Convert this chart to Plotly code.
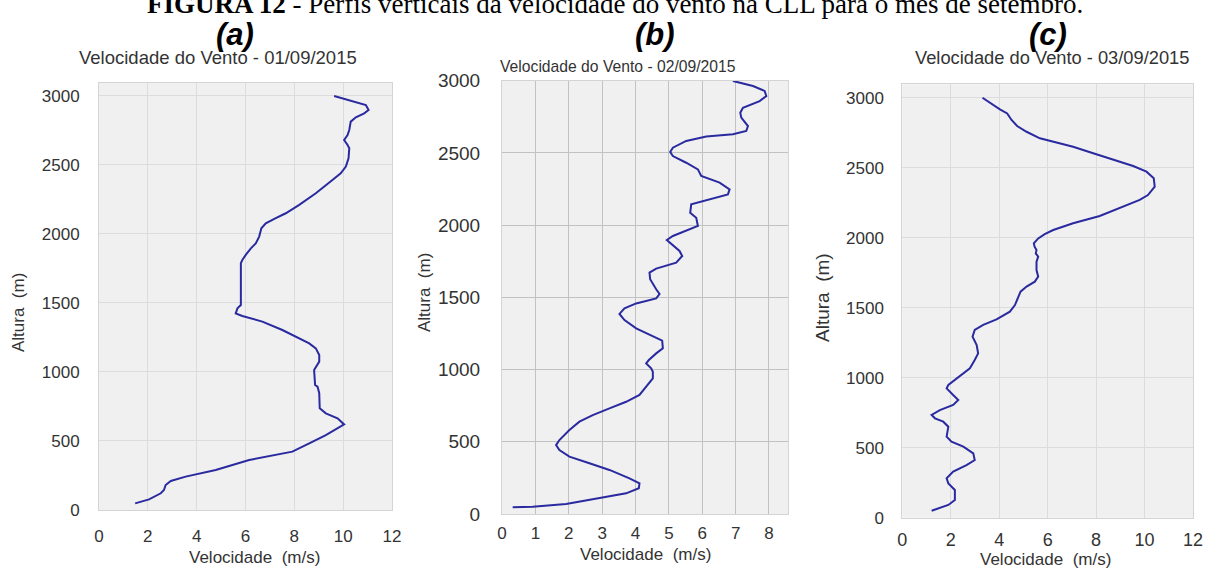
import plotly.graph_objects as go

# ---------------- data ----------------
height_a = [48, 77, 121, 145, 181, 210, 242, 290, 362, 423, 483, 543, 620, 664, 700, 737, 846, 894, 906, 1014,
            1075, 1123, 1171, 1207, 1304, 1365, 1406, 1425, 1461, 1485, 1788, 1812, 1848, 1896, 1932, 1981, 2041,
            2077, 2114, 2150, 2211, 2295, 2391, 2440, 2488, 2548, 2621, 2645, 2681, 2717, 2753, 2814, 2845, 2874,
            2898, 2934, 3000]
speed_a = [1.48, 2.05, 2.53, 2.66, 2.73, 2.94, 3.55, 4.78, 6.15, 7.92, 8.61, 9.29, 10.04, 9.77, 9.29, 9.04, 9.02,
           8.95, 8.85, 8.81, 9.02, 9.02, 8.88, 8.61, 7.51, 6.69, 5.87, 5.6, 5.67, 5.81, 5.81, 5.87, 6.01, 6.22, 6.42,
           6.56, 6.65, 6.83, 7.24, 7.65, 8.2, 8.88, 9.56, 9.9, 10.11, 10.22, 10.25, 10.18, 10.04, 10.18, 10.25,
           10.31, 10.52, 10.86, 11.04, 10.93, 9.63]

height_b = [46, 51, 69, 108, 143, 178, 212, 247, 305, 351, 397, 443, 477, 512, 582, 639, 685, 731, 777, 824, 881,
            939, 985, 1008, 1043, 1066, 1112, 1147, 1200, 1239, 1285, 1343, 1385, 1424, 1458, 1493, 1523, 1556, 1625,
            1671, 1699, 1740, 1786, 1821, 1867, 1897, 1925, 1959, 1994, 2051, 2086, 2144, 2174, 2213, 2248, 2294,
            2340, 2386, 2432, 2478, 2506, 2536, 2583, 2613, 2629, 2652, 2686, 2744, 2778, 2813, 2859, 2894, 2929,
            2963, 2998]
speed_b = [0.32, 0.92, 1.92, 2.92, 3.72, 4.1, 4.12, 3.82, 3.22, 2.62, 2.02, 1.72, 1.62, 1.72, 2.02, 2.32, 2.72, 3.22,
           3.72, 4.12, 4.32, 4.52, 4.52, 4.47, 4.32, 4.4, 4.62, 4.82, 4.8, 4.42, 4.02, 3.67, 3.52, 3.67, 4.02, 4.62,
           4.72, 4.62, 4.44, 4.42, 4.62, 5.22, 5.4, 5.32, 5.07, 4.94, 5.12, 5.52, 5.87, 5.82, 5.64, 5.67, 6.12, 6.77,
           6.82, 6.52, 5.97, 5.87, 5.52, 5.12, 5.04, 5.12, 5.52, 6.12, 6.92, 7.32, 7.37, 7.17, 7.14, 7.22, 7.72,
           7.92, 7.87, 7.52, 6.92]

height_c = [50, 91, 126, 198, 245, 281, 329, 376, 412, 460, 508, 543, 579, 650, 686, 710, 734, 769, 805, 841, 876,
            924, 948, 996, 1067, 1126, 1174, 1234, 1293, 1341, 1377, 1417, 1472, 1519, 1579, 1615, 1651, 1686, 1722,
            1769, 1829, 1865, 1888, 1912, 1936, 1960, 1995, 2026, 2055, 2103, 2155, 2234, 2270, 2305, 2365, 2425,
            2472, 2512, 2555, 2603, 2650, 2686, 2710, 2757, 2798, 2841, 2888, 2917, 2960, 3000]
speed_c = [1.21, 1.9, 2.17, 2.17, 1.9, 1.83, 2.1, 2.65, 2.99, 2.93, 2.52, 2.03, 1.83, 1.9, 1.69, 1.35, 1.21, 1.55,
           2.1, 2.31, 2.1, 1.83, 1.9, 2.24, 2.79, 2.99, 3.13, 3.07, 2.9, 2.99, 3.34, 3.89, 4.44, 4.65, 4.78, 4.88,
           5.13, 5.47, 5.61, 5.54, 5.54, 5.61, 5.51, 5.54, 5.46, 5.43, 5.61, 5.88, 6.23, 7.05, 8.15, 9.25, 9.8,
           10.14, 10.42, 10.38, 10.08, 9.53, 8.7, 7.88, 7.05, 6.23, 5.68, 5.13, 4.74, 4.51, 4.33, 4.03, 3.68, 3.31]

panel_letters = ["(a)", "(b)", "(c)"]
panel_titles = ["Velocidade do Vento - 01/09/2015",
                "Velocidade do Vento - 02/09/2015",
                "Velocidade do Vento - 03/09/2015"]
figure_title_bold = "FIGURA 12"
figure_title_rest = " - Perfis verticais da velocidade do vento na CLL para o mês de setembro."
x_title = "Velocidade  (m/s)"
y_title = "Altura  (m)"
y_ticks = [0, 500, 1000, 1500, 2000, 2500, 3000]
x_ticks_ac = [0, 2, 4, 6, 8, 10, 12]
x_ticks_b = [0, 1, 2, 3, 4, 5, 6, 7, 8]

# ---------------- figure ----------------
W, H = 1214, 572
LINE = "#2a2aa0"
SANS = "Liberation Sans, Arial, sans-serif"

fig = go.Figure()
fig.add_trace(go.Scatter(x=speed_a, y=height_a, mode="lines", line=dict(color=LINE, width=2),
                         xaxis="x", yaxis="y", hoverinfo="skip"))
fig.add_trace(go.Scatter(x=speed_b, y=height_b, mode="lines", line=dict(color=LINE, width=2),
                         xaxis="x2", yaxis="y2", hoverinfo="skip"))
fig.add_trace(go.Scatter(x=speed_c, y=height_c, mode="lines", line=dict(color=LINE, width=2),
                         xaxis="x3", yaxis="y3", hoverinfo="skip"))


def px_x(p):
    return p / W


def px_y(p):
    return 1 - p / H


def xax(domain, rng, ticks, anchor, grid, size, standoff):
    return dict(domain=domain, range=rng, tickvals=ticks, anchor=anchor, showgrid=True, gridcolor=grid,
                gridwidth=1, zeroline=False, showline=True, mirror=True, linecolor="#d4d4d4", linewidth=1,
                ticks="", tickfont=dict(family=SANS, size=size, color="#333333"), ticklabelstandoff=standoff,
                fixedrange=True, automargin=False)


def yax(domain, rng, anchor, grid, size, standoff):
    return dict(domain=domain, range=rng, tickvals=y_ticks, anchor=anchor, showgrid=True, gridcolor=grid,
                gridwidth=1, zeroline=False, showline=True, mirror=True, linecolor="#d4d4d4", linewidth=1,
                ticks="", tickfont=dict(family=SANS, size=size, color="#333333"), ticklabelstandoff=standoff,
                fixedrange=True, automargin=False)


fig.update_layout(
    width=W, height=H, margin=dict(l=0, r=0, t=0, b=0, pad=0, autoexpand=False),
    paper_bgcolor="white", plot_bgcolor="#f0f0f0", showlegend=False,
    xaxis=xax([px_x(99), px_x(392)], [0, 12.0], x_ticks_ac, "y", "#dcdcdc", 17, 11),
    yaxis=yax([px_y(510), px_y(82.7)], [0, 3096], "x", "#dcdcdc", 17, 15),
    xaxis2=xax([px_x(502), px_x(788)], [0, 8.57], x_ticks_b, "y2", "#c2c2c2", 17, 4),
    yaxis2=yax([px_y(514), px_y(80.7)], [0, 3000], "x2", "#c2c2c2", 19, 17),
    xaxis3=xax([px_x(902.3), px_x(1193)], [0, 12.0], x_ticks_ac, "y3", "#dcdcdc", 18, 6),
    yaxis3=yax([px_y(517.7), px_y(84.3)], [0, 3096], "x3", "#dcdcdc", 17, 14),
)

ann = []
# figure caption (partly cut at the top, as in the source)
ann.append(dict(text="<b>" + figure_title_bold + "</b>" + figure_title_rest, x=px_x(615), y=px_y(4),
                xref="paper", yref="paper", showarrow=False, xanchor="center", yanchor="middle",
                font=dict(family="Liberation Serif, Times New Roman, serif", size=27, color="black")))
# panel letters
for txt, cx in zip(panel_letters, [235, 655, 1048]):
    ann.append(dict(text="<b><i>" + txt + "</i></b>", x=px_x(cx), y=px_y(34), xref="paper", yref="paper",
                    showarrow=False, xanchor="center", yanchor="middle", borderpad=0,
                    font=dict(family=SANS, size=31, color="black")))
# panel titles
for txt, cx, cy, sz in zip(panel_titles, [218, 617.5, 1051.5], [58, 67, 58], [18.5, 15.7, 18.3]):
    ann.append(dict(text=txt, x=px_x(cx), y=px_y(cy), xref="paper", yref="paper", showarrow=False,
                    xanchor="center", yanchor="middle", font=dict(family=SANS, size=sz, color="#333333")))
# x axis titles (kept inside the page)
for cx, cbot in zip([254, 645, 1045], [569, 566, 571]):
    ann.append(dict(text=x_title, x=px_x(cx), y=px_y(cbot), xref="paper", yref="paper", showarrow=False,
                    xanchor="center", yanchor="bottom", font=dict(family=SANS, size=17, color="#333333")))
# y axis titles
for cx, cy, sz in zip([18, 425, 822], [313, 293, 298], [17, 17, 19]):
    ann.append(dict(text=y_title, x=px_x(cx), y=px_y(cy), xref="paper", yref="paper", showarrow=False,
                    textangle=-90, xanchor="center", yanchor="middle",
                    font=dict(family=SANS, size=sz, color="#333333")))
fig.update_layout(annotations=ann)

fig.write_html("out.html", config={"displayModeBar": False})
